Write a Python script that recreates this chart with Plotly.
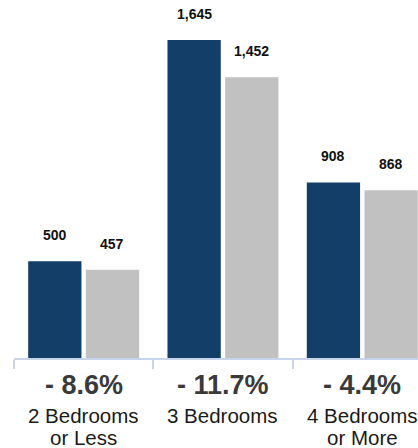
import plotly.graph_objects as go

categories = ["2 Bedrooms<br>or Less", "3 Bedrooms", "4 Bedrooms<br>or More"]
cat_line1 = ["2 Bedrooms", "3 Bedrooms", "4 Bedrooms"]
cat_line2 = ["or Less", "", "or More"]
values_prev = [500, 1645, 908]
values_curr = [457, 1452, 868]

pct_labels = ["- {:.1f}%".format(abs((c - p) / p * 100)) for p, c in zip(values_prev, values_curr)]

DARK = "#123e68"
GRAY = "#c1c1c1"
FONT = "Liberation Sans, Arial, Helvetica, sans-serif"

fig = go.Figure()
fig.add_trace(go.Bar(x=categories, y=values_prev, marker=dict(color=DARK, line=dict(width=0)), name="prev"))
fig.add_trace(go.Bar(x=categories, y=values_curr, marker=dict(color=GRAY, line=dict(width=0)), name="curr"))

ann = []
for i, cat in enumerate(categories):
    ann.append(dict(x=cat, y=values_prev[i], xref="x", yref="y", text="<b>{:,}</b>".format(values_prev[i]),
                    showarrow=False, xshift=-28.8, yshift=26, yanchor="middle",
                    font=dict(family=FONT, size=14, color="#111111")))
    ann.append(dict(x=cat, y=values_curr[i], xref="x", yref="y", text="<b>{:,}</b>".format(values_curr[i]),
                    showarrow=False, xshift=28.8, yshift=26, yanchor="middle",
                    font=dict(family=FONT, size=14, color="#111111")))
    ann.append(dict(x=cat, y=0, xref="x", yref="paper", text="<b>" + pct_labels[i] + "</b>",
                    showarrow=False, yshift=-27, yanchor="middle",
                    font=dict(family=FONT, size=27, color="#3a3a3a")))
    ann.append(dict(x=cat, y=0, xref="x", yref="paper", text=cat_line1[i],
                    showarrow=False, yshift=-57, yanchor="middle",
                    font=dict(family=FONT, size=20.5, color="#1a1a1a")))
    if cat_line2[i]:
        ann.append(dict(x=cat, y=0, xref="x", yref="paper", text=cat_line2[i],
                        showarrow=False, yshift=-79, yanchor="middle",
                        font=dict(family=FONT, size=20.5, color="#1a1a1a")))

fig.update_layout(
    width=418, height=448,
    margin=dict(l=14, r=0, t=0, b=90),
    paper_bgcolor="white", plot_bgcolor="white",
    barmode="group", bargap=0.172, bargroupgap=0.076,
    showlegend=False,
    annotations=ann,
    xaxis=dict(range=[-0.5, 2.4], showticklabels=False, ticks="outside", tickson="boundaries",
               ticklen=9, tickwidth=2, tickcolor="#c8d4ea", showline=True, linecolor="#c8d4ea",
               linewidth=2, showgrid=False, zeroline=False, fixedrange=True),
    yaxis=dict(range=[0, 1852], visible=False, showgrid=False, zeroline=False, fixedrange=True),
)

fig.write_html("out.html", config={"displayModeBar": False})
